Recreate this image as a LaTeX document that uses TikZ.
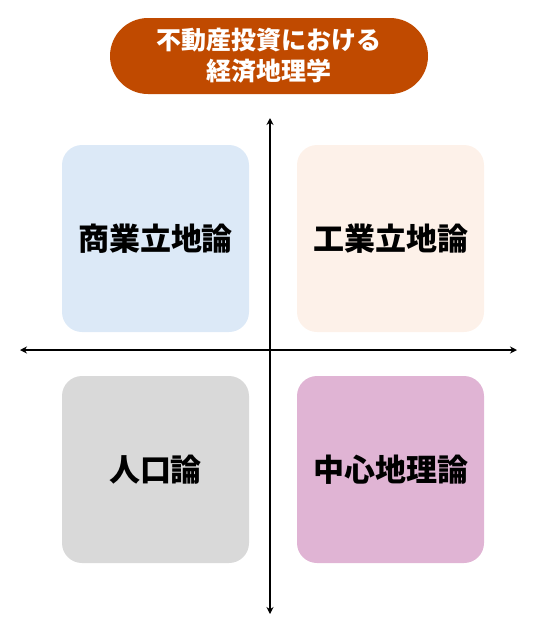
\documentclass[tikz,border=0pt]{standalone}
\usepackage{fontspec}
\newfontfamily\cjk{Noto Sans CJK JP}
\usepackage{tikz}
\usetikzlibrary{arrows.meta,positioning}
\definecolor{titlebg}{HTML}{C04A00}
\definecolor{qblue}{HTML}{DCE9F7}
\definecolor{qpeach}{HTML}{FDF1E9}
\definecolor{qgray}{HTML}{D9D9D9}
\definecolor{qpink}{HTML}{E0B4D4}
\tikzset{quadbox/.style={rectangle,rounded corners=20pt,minimum width=187pt,minimum height=187pt,font=\cjk\bfseries\fontsize{31}{36}\selectfont},
    titlepill/.style={rectangle,rounded corners=38pt,fill=titlebg,text=white,minimum width=318pt,minimum height=76pt,align=center,font=\cjk\bfseries\fontsize{25}{31}\selectfont},
    axis/.style={line width=1.6pt,-{Stealth[length=7pt,width=7pt]}}}

\begin{document}
\begin{tikzpicture}[x=1pt,y=-1pt]
\useasboundingbox (0,0) rectangle (539,633);

\node (title) [titlepill] at (269,56) {不動産投資における\\経済地理学};

\node (shogyo) [quadbox,fill=qblue] at (155.5,238.5) {商業立地論};
\node (kogyo) [quadbox,fill=qpeach] at (390.5,238.5) {工業立地論};
\node (jinko) [quadbox,fill=qgray] at (155.5,469.5) {人口論};
\node (chushin) [quadbox,fill=qpink] at (390.5,469.5) {中心地理論};

\coordinate (o) at (270,350);
\coordinate (top) at (270,118);
\coordinate (bottom) at (270,614);
\coordinate (left) at (20,350);
\coordinate (right) at (517,350);
\draw [axis] (o) -- (top);
\draw [axis] (o) -- (bottom);
\draw [axis] (o) -- (left);
\draw [axis] (o) -- (right);

\end{tikzpicture}
\end{document}
